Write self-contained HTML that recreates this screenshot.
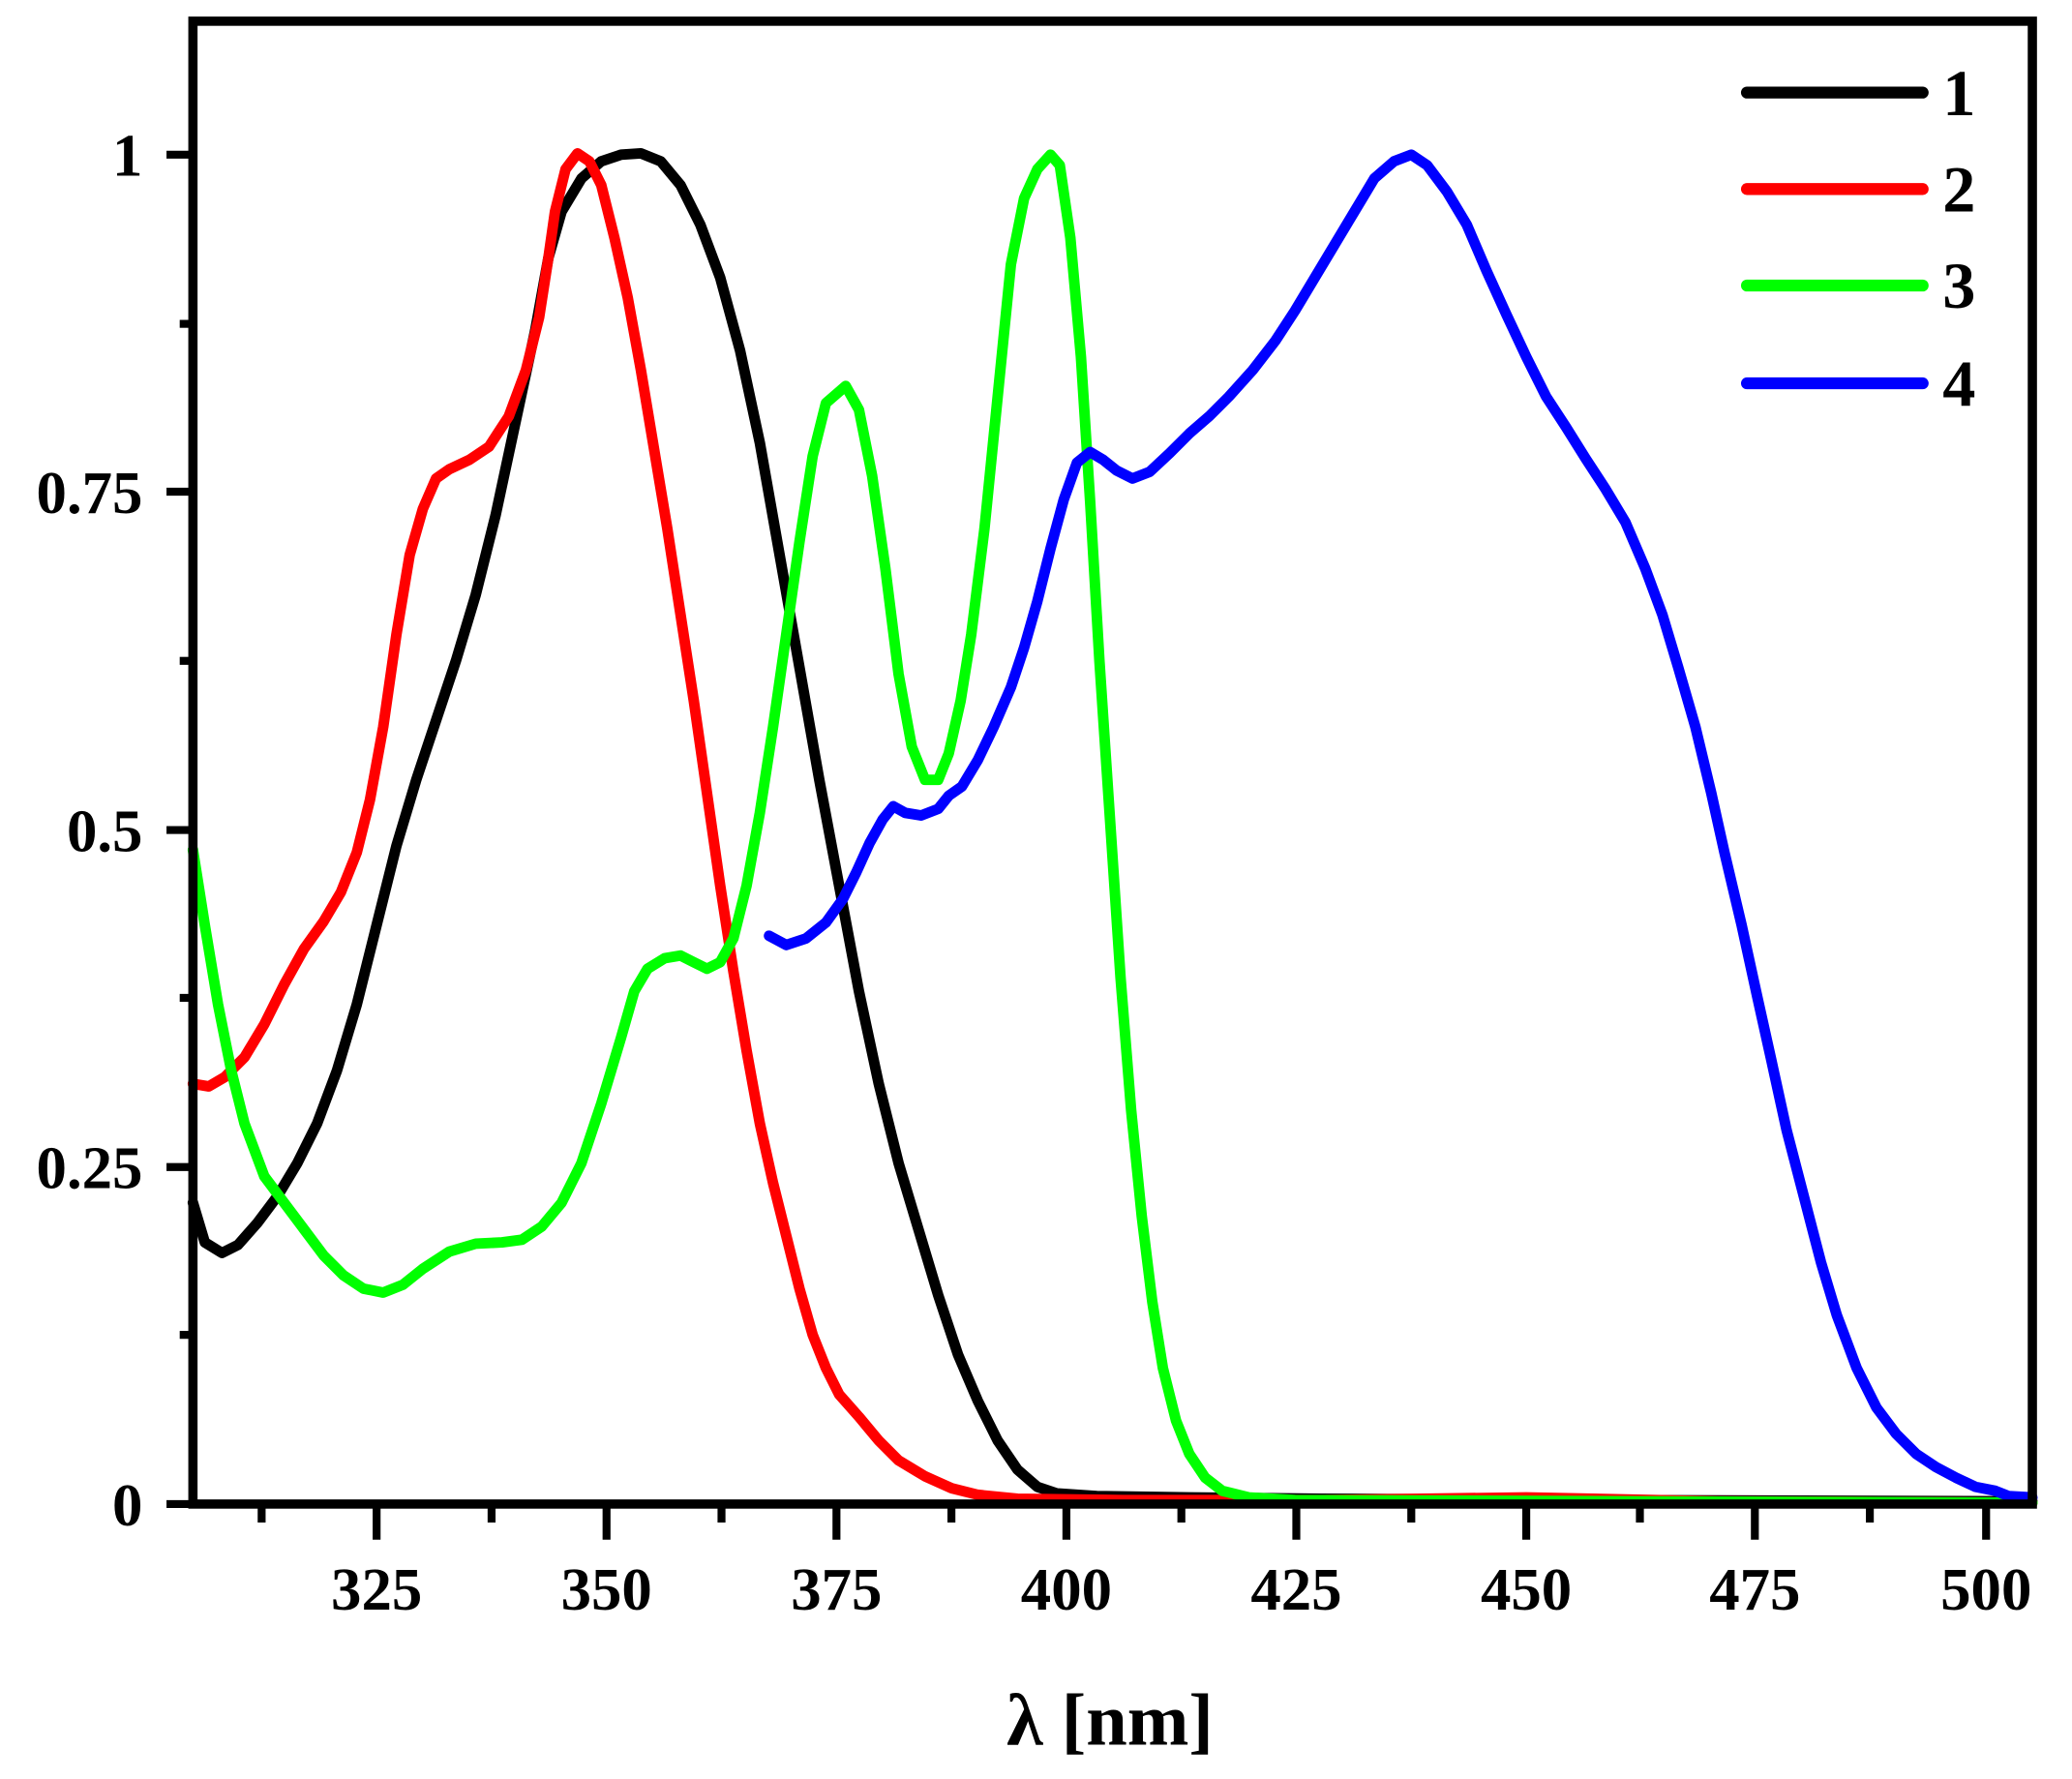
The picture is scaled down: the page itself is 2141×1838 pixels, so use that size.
<!DOCTYPE html>
<html><head><meta charset="utf-8"><style>html,body{margin:0;padding:0;background:#fff}svg{display:block}</style></head>
<body>
<svg width="2141" height="1838" viewBox="0 0 1568 1346" xmlns="http://www.w3.org/2000/svg" font-family="Liberation Serif, serif" font-weight="bold">
<rect width="1568" height="1346" fill="#fff"/>
<g fill="none" stroke-width="8" stroke-linejoin="round" stroke-linecap="round">
<polyline stroke="#000" points="146,910 155,940 168,948 180,942 195,925 210,905 225,880 240,850 255,810 270,760 285,700 300,640 315,590 330,545 345,500 360,450 375,390 390,320 405,250 415,195 425,160 440,135 455,122 470,117 485,116 500,122 515,140 530,170 545,210 560,265 575,335 590,420 605,505 620,590 635,670 650,750 665,820 680,880 695,930 710,980 725,1025 740,1060 755,1090 770,1112 785,1125 800,1130 830,1132 900,1133 1000,1134 1200,1135 1538,1136"/>
<polyline stroke="#ff0000" points="146,820 158,822 170,815 185,800 200,775 215,745 230,718 245,697 258,675 270,645 280,605 290,550 300,480 310,420 320,385 330,362 340,355 355,348 370,338 385,315 398,280 408,240 415,195 420,160 428,128 437,116 446,122 455,140 465,180 475,225 485,280 495,340 505,400 515,465 525,530 535,600 545,670 555,735 565,795 575,850 585,895 595,935 605,975 615,1010 625,1035 635,1055 650,1072 665,1090 680,1105 700,1117 720,1126 740,1131 770,1134 850,1135 1000,1135 1155,1133 1300,1136 1538,1137"/>
<polyline stroke="#00ff00" points="146,643 155,700 165,760 175,810 185,850 200,890 215,910 230,930 245,950 260,965 275,975 290,978 305,972 320,960 340,947 360,941 380,940 395,938 410,928 425,910 440,880 455,835 470,785 480,750 490,733 503,725 515,723 525,728 535,733 545,728 555,710 565,670 575,615 585,550 595,480 605,410 615,345 625,305 640,292 650,310 660,360 670,430 680,510 690,565 700,590 710,590 718,570 727,530 735,480 745,400 755,300 765,200 775,150 785,128 795,117 802,125 810,180 818,270 825,380 832,500 840,620 848,740 856,840 864,920 872,985 880,1035 890,1075 900,1100 912,1118 925,1128 945,1133 980,1135 1538,1137"/>
<polyline stroke="#0000ff" points="582,708 595,715 610,710 625,698 638,680 648,660 658,638 668,620 676,610 685,615 697,617 710,612 718,602 728,595 740,575 752,550 765,520 775,490 785,455 795,415 805,378 815,350 825,342 835,348 845,356 857,362 870,357 885,343 900,328 915,315 930,300 948,280 965,258 980,235 995,210 1010,185 1025,160 1040,135 1055,122 1068,117 1080,125 1095,145 1110,170 1125,205 1140,238 1155,270 1170,300 1185,323 1200,347 1215,370 1230,395 1245,430 1258,465 1270,505 1283,550 1295,600 1305,645 1318,700 1330,755 1340,800 1352,855 1365,905 1378,955 1390,995 1405,1035 1420,1065 1435,1085 1450,1100 1465,1110 1480,1118 1495,1125 1510,1128 1520,1132 1538,1133"/>
</g>
<rect x="146" y="16" width="1392" height="1122" fill="none" stroke="#000" stroke-width="7"/>
<g stroke="#000" stroke-width="6">
<line x1="285" y1="1138" x2="285" y2="1165"/><line x1="459" y1="1138" x2="459" y2="1165"/><line x1="633" y1="1138" x2="633" y2="1165"/><line x1="807" y1="1138" x2="807" y2="1165"/><line x1="981" y1="1138" x2="981" y2="1165"/><line x1="1155" y1="1138" x2="1155" y2="1165"/><line x1="1328" y1="1138" x2="1328" y2="1165"/><line x1="1503" y1="1138" x2="1503" y2="1165"/>
<line x1="198" y1="1138" x2="198" y2="1152"/><line x1="372" y1="1138" x2="372" y2="1152"/><line x1="546" y1="1138" x2="546" y2="1152"/><line x1="720" y1="1138" x2="720" y2="1152"/><line x1="894" y1="1138" x2="894" y2="1152"/><line x1="1068" y1="1138" x2="1068" y2="1152"/><line x1="1241" y1="1138" x2="1241" y2="1152"/><line x1="1415" y1="1138" x2="1415" y2="1152"/>
<line x1="126" y1="1138" x2="146" y2="1138"/><line x1="126" y1="883" x2="146" y2="883"/><line x1="126" y1="628" x2="146" y2="628"/><line x1="126" y1="372" x2="146" y2="372"/><line x1="126" y1="117" x2="146" y2="117"/>
<line x1="136" y1="1010" x2="146" y2="1010"/><line x1="136" y1="755" x2="146" y2="755"/><line x1="136" y1="500" x2="146" y2="500"/><line x1="136" y1="245" x2="146" y2="245"/>
</g>
<g font-size="46" text-anchor="middle">
<text x="285" y="1218">325</text><text x="459" y="1218">350</text><text x="633" y="1218">375</text><text x="807" y="1218">400</text><text x="981" y="1218">425</text><text x="1155" y="1218">450</text><text x="1328" y="1218">475</text><text x="1503" y="1218">500</text>
</g>
<g font-size="46" text-anchor="end">
<text x="108" y="1154">0</text><text x="108" y="899">0.25</text><text x="108" y="644">0.5</text><text x="108" y="388">0.75</text><text x="108" y="133">1</text>
</g>
<text x="840" y="1320" font-size="56" text-anchor="middle">λ [nm]</text>
<g stroke-width="9" stroke-linecap="round">
<line x1="1322" y1="70" x2="1455" y2="70" stroke="#000"/>
<line x1="1322" y1="143" x2="1455" y2="143" stroke="#ff0000"/>
<line x1="1322" y1="216" x2="1455" y2="216" stroke="#00ff00"/>
<line x1="1322" y1="290" x2="1455" y2="290" stroke="#0000ff"/>
</g>
<g font-size="50">
<text x="1470" y="87">1</text><text x="1470" y="160">2</text><text x="1470" y="233">3</text><text x="1470" y="307">4</text>
</g>
</svg>
</body></html>
